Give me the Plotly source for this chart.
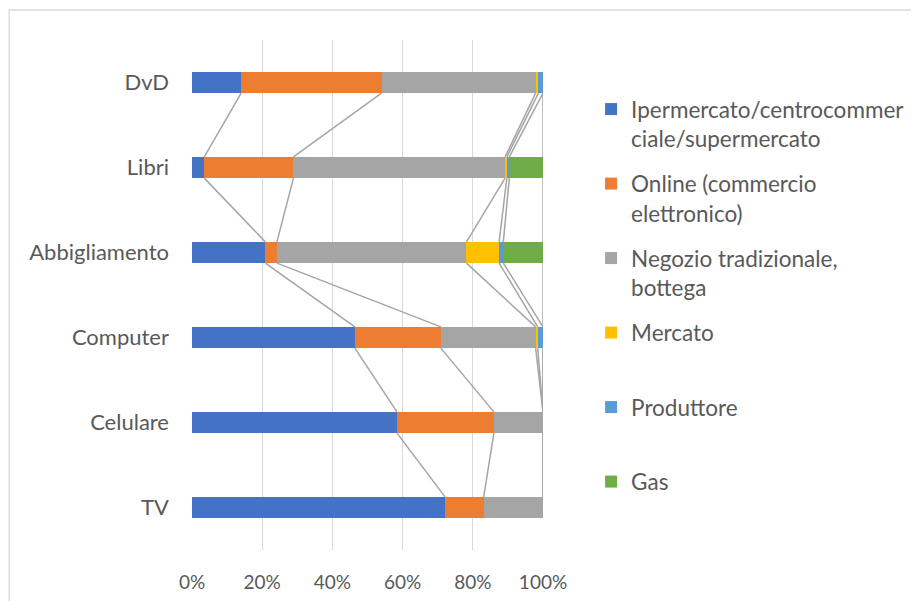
import plotly.graph_objects as go

categories = ["TV", "Celulare", "Computer", "Abbigliamento", "Libri", "DvD"]
series_names = [
    "Ipermercato/centrocommer<br>ciale/supermercato",
    "Online (commercio<br>elettronico)",
    "Negozio tradizionale,<br>bottega",
    "Mercato<br> ",
    "Produttore<br> ",
    "Gas<br> ",
]
ipermercato = [72.1, 58.4, 46.4, 20.9, 3.5, 14.0]
online = [11.0, 27.6, 24.5, 3.3, 25.4, 40.0]
negozio = [16.9, 14.0, 27.0, 54.0, 60.3, 43.9]
mercato = [0.0, 0.0, 0.6, 9.3, 0.5, 0.8]
produttore = [0.0, 0.0, 1.5, 1.2, 0.7, 1.3]
gas = [0.0, 0.0, 0.0, 11.3, 9.6, 0.0]

values = [ipermercato, online, negozio, mercato, produttore, gas]
colors = ["#4472C4", "#ED7D31", "#A5A5A5", "#FFC000", "#5B9BD5", "#70AD47"]

ypos = list(range(len(categories)))
bw = 0.25
font = "Lato, Open Sans, sans-serif"
fc = "#595959"

fig = go.Figure()

# series lines
totals = [sum(v[j] for v in values) for j in range(len(categories))]
cum = [0.0] * len(categories)
lx, ly = [], []
for v in values:
    cum = [cum[j] + v[j] for j in range(len(categories))]
    pct = [cum[j] / totals[j] * 100 for j in range(len(categories))]
    for j in range(len(categories) - 1):
        lx += [pct[j], pct[j + 1], None]
        ly += [ypos[j] + bw / 2, ypos[j + 1] - bw / 2, None]
fig.add_trace(go.Scatter(x=lx, y=ly, mode="lines", line=dict(color="#A5A5A5", width=1.5),
                         showlegend=False, hoverinfo="skip"))

for i, (name, v, c) in enumerate(zip(series_names, values, colors)):
    pv = [v[j] / totals[j] * 100 for j in range(len(categories))]
    fig.add_trace(go.Bar(x=pv, y=ypos, orientation="h", name=name, marker_color=c,
                         marker_line_width=0, width=bw, legendgroup=str(i)))

fig.update_layout(
    width=919, height=601,
    margin=dict(l=184, r=384, t=32, b=59),
    barmode="stack",
    paper_bgcolor="white", plot_bgcolor="white",
    font=dict(family=font, size=22, color=fc),
    legend=dict(x=1.137, y=0.906, xanchor="left", yanchor="top", valign="top",
                font=dict(family=font, size=22.5, color=fc), tracegroupgap=13,
                itemclick=False),
    xaxis=dict(range=[0, 100], tickvals=[0, 20, 40, 60, 80, 100],
               ticktext=["0%", "20%", "40%", "60%", "80%", "100%"],
               tickfont=dict(size=19),
               showgrid=True, gridcolor="#D9D9D9", gridwidth=1.3, zeroline=False,
               showline=False, ticklabelstandoff=19),
    yaxis=dict(range=[-0.5, 5.5], tickvals=ypos, ticktext=categories, showgrid=False,
               tickfont=dict(size=22),
               zeroline=False, showline=False, ticklabelstandoff=22),
    shapes=[dict(type="rect", xref="paper", yref="paper", x0=-0.521, x1=3.0, y0=-0.3, y1=1.0588,
                 line=dict(color="#D9D9D9", width=1.3), fillcolor="rgba(0,0,0,0)", layer="below")],
)

fig.write_html("out.html")
